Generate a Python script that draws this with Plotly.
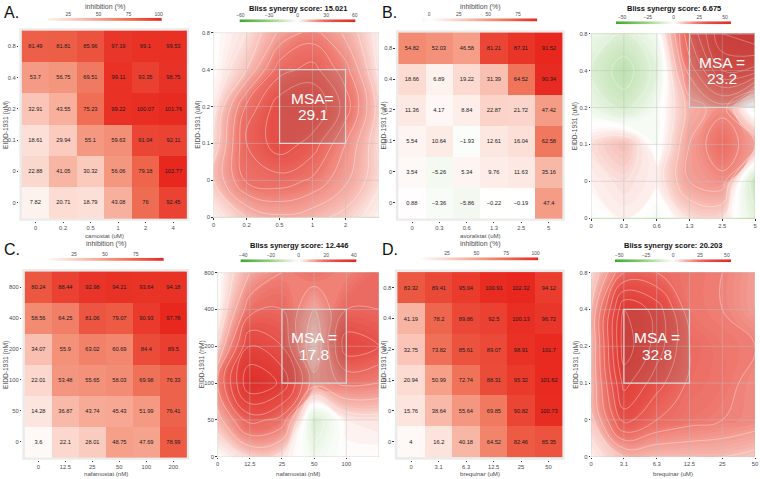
import plotly.graph_objects as go

W, H = 760, 479
FONT = "Liberation Sans, Arial, Helvetica, sans-serif"
TXT = "#4d4d4d"
# inhibition heatmap scale (green - white - red)
HEAT_SCALE = [[0.0, "#3aa62b"], [0.25, "#9fd28f"], [0.5, "#ffffff"],
              [0.625, "#fbd3c8"], [0.75, "#f6a08a"], [0.875, "#ee6a50"], [1.0, "#e8281f"]]
# synergy surface scale (green - white - red)
SYN_SCALE = [[0.0, "#3caa2c"], [0.25, "#96cf80"], [0.4, "#d8edcf"], [0.5, "#ffffff"],
             [0.6, "#f6b5ac"], [0.7, "#ee776d"], [0.8, "#e64f48"], [1.0, "#dc2a26"]]

# ---------------- data ----------------
# EIDD-1931 dose labels (bottom -> top)
eidd_uM_labels = ["0", "0", "0.1", "0.2", "0.4", "0.8"]
eidd_nM_labels = ["0", "50", "100", "200", "400", "800"]
# partner drug dose labels (left -> right)
camostat_labels = ["0", "0.2", "0.5", "1", "2", "4"]
avoralstat_labels = ["0", "0.3", "0.6", "1.3", "2.5", "5"]
nafamostat_labels = ["0", "12.5", "25", "50", "100", "200"]
brequinar_labels = ["0", "3.1", "6.3", "12.5", "25", "50"]

# inhibition (%) - rows from lowest EIDD dose (bottom) to highest (top)
inhib_camostat = [
    [7.82, 20.71, 18.79, 43.08, 76, 92.45],
    [22.88, 41.05, 30.32, 56.06, 79.18, 102.77],
    [18.61, 29.94, 55.1, 59.63, 91.04, 92.11],
    [32.91, 43.55, 75.23, 99.22, 100.07, 101.76],
    [53.7, 56.75, 69.51, 99.11, 93.35, 98.75],
    [81.49, 81.81, 85.96, 97.19, 99.1, 99.53],
]
inhib_avoralstat = [
    [0.88, -3.36, -5.86, -0.22, -0.19, 47.4],
    [3.54, -5.26, 5.34, 9.76, 11.63, 35.16],
    [5.54, 10.64, -1.93, 12.61, 16.04, 62.58],
    [11.36, 4.17, 8.84, 22.87, 21.72, 47.42],
    [18.66, 6.89, 19.22, 31.39, 64.52, 90.34],
    [54.82, 52.03, 46.58, 81.21, 87.31, 91.52],
]
inhib_nafamostat = [
    [3.6, 22.1, 28.01, 48.75, 47.69, 78.99],
    [14.28, 36.87, 43.74, 45.43, 51.99, 76.41],
    [22.01, 53.48, 55.65, 58.03, 69.98, 76.33],
    [34.07, 55.9, 63.02, 60.69, 84.4, 89.5],
    [58.56, 64.25, 81.06, 79.07, 90.93, 97.78],
    [80.24, 88.44, 92.98, 94.21, 93.64, 94.18],
]
inhib_brequinar = [
    [4, 16.2, 40.18, 64.52, 82.46, 85.35],
    [15.76, 38.64, 55.64, 69.85, 90.82, 100.73],
    [20.94, 50.99, 72.74, 88.31, 95.32, 101.62],
    [32.75, 73.82, 85.61, 89.07, 98.91, 101.7],
    [41.19, 78.2, 89.86, 92.5, 100.13, 96.72],
    [83.32, 89.41, 95.04, 100.91, 102.32, 94.12],
]

# Bliss synergy (estimated from the surface) - rows bottom -> top
syn_camostat = [
    [2, 10, 14, 12, 8, 2],
    [10, 26, 28, 24, 16, 6],
    [6, 30, 38, 33, 20, 6],
    [3, 26, 38, 40, 28, 8],
    [0, 10, 28, 32, 22, 4],
    [0, 5, 16, 22, 14, 3],
]
syn_avoralstat = [
    [-2, 2, -3, 5, 5, -8],
    [2, 5, 2, 15, 18, -15],
    [5, 10, -2, 15, 25, 15],
    [-5, -12, -3, 12, 18, -5],
    [-10, -18, -8, 22, 40, 38],
    [-5, -10, -3, 30, 50, 55],
]
syn_nafamostat = [
    [0, 5, 3, -3, 0, 0],
    [8, 22, 18, -8, 2, 3],
    [15, 40, 34, 12, 16, 15],
    [5, 30, 25, 5, 28, 25],
    [0, 18, 20, 10, 20, 20],
    [0, 10, 15, 18, 15, 20],
]
syn_brequinar = [
    [2, 10, 10, 10, 10, 8],
    [8, 32, 25, 22, 20, 18],
    [10, 42, 32, 24, 22, 18],
    [10, 48, 38, 25, 22, 20],
    [10, 45, 38, 22, 20, 15],
    [5, 25, 25, 22, 20, 15],
]
bliss_scores = ["15.021", "6.675", "12.446", "20.203"]
msa_scores = ["29.1", "23.2", "17.8", "32.8"]
msa_words = ["MSA=", "MSA =", "MSA =", "MSA ="]
syn_limits = [61, 56, 42, 54]
syn_ticks = [[-60, -30, 0, 30, 60], [-50, -25, 0, 25, 50], [-40, -20, 0, 20, 40], [-50, -25, 0, 25, 50]]
inhib_ticks = [[25, 50, 75, 100], [0, 25, 50, 75], [25, 50, 75], [25, 50, 75, 100]]
# MSA windows as (x index from, x index to, y index from, y index to)
msa_windows = [(2, 4, 2, 4), (3, 5, 3, 5), (2, 4, 2, 4), (1, 3, 2, 4)]
# number of x ticks visible on the synergy surfaces (last one is cut in A and C)
syn_xtick_count = [5, 6, 5, 6]

# ---------------- figure ----------------
fig = go.Figure()
lay = {}
annotations = []
shapes = []
n_ax = [0]

tick_font = dict(family=FONT, size=5.8, color=TXT)
base_ax = dict(showgrid=False, zeroline=False, showline=False, ticks="outside",
               ticklen=1.5, tickwidth=0.6, tickcolor="#333333", tickfont=tick_font,
               fixedrange=True)


def axes(xpx, ypx, xkw, ykw):
    n_ax[0] += 1
    n = n_ax[0]
    s = "" if n == 1 else str(n)
    lay["xaxis" + s] = dict(domain=[xpx[0] / W, xpx[1] / W], anchor="y" + s, **xkw)
    lay["yaxis" + s] = dict(domain=[1 - ypx[1] / H, 1 - ypx[0] / H], anchor="x" + s, **ykw)
    return "x" + s, "y" + s


def ann(xpx, ypx, text, size, color=TXT, angle=0, xanchor="center", yanchor="middle"):
    annotations.append(dict(x=xpx / W, y=1 - ypx / H, xref="paper", yref="paper",
                            text=text, showarrow=False, textangle=angle,
                            xanchor=xanchor, yanchor=yanchor, borderpad=0,
                            font=dict(family=FONT, size=size, color=color)))


def heat_panel(cx, cy, z, xl, yl, pad=2.5):
    ux = 6 / (cx[1] - cx[0])
    uy = 6 / (cy[1] - cy[0])
    xr, yr = axes((cx[0] - pad, cx[1] + pad), (cy[0] - pad, cy[1] + pad),
                  dict(base_ax, range=[-0.5 - pad * ux, 5.5 + pad * ux],
                       tickvals=list(range(6)), ticktext=xl),
                  dict(base_ax, range=[-0.5 - pad * uy, 5.5 + pad * uy],
                       tickvals=list(range(6)), ticktext=yl))
    zmax = max(max(r) for r in z)
    fig.add_trace(go.Heatmap(
        z=z, x=list(range(6)), y=list(range(6)), xaxis=xr, yaxis=yr,
        colorscale=HEAT_SCALE, zmin=-zmax, zmax=zmax, showscale=False,
        text=[[f"{v:g}".replace("-", "\u2212") for v in row] for row in z],
        texttemplate="%{text}",
        textfont=dict(family=FONT, size=5.7, color="#1a1a1a"), hoverinfo="skip"))
    shapes.append(dict(type="rect", xref=xr + " domain", yref=yr + " domain",
                       x0=0, x1=1, y0=0, y1=1, fillcolor="#ebebeb",
                       line=dict(width=0), layer="below"))


def strip(xpx, ypx, lo, hi, zmin, zmax, ticks, scale):
    xr, yr = axes(xpx, ypx,
                  dict(range=[lo, hi], side="top", tickvals=ticks, ticks="",
                       showgrid=False, zeroline=False, showline=False,
                       tickfont=dict(family=FONT, size=5, color=TXT), fixedrange=True),
                  dict(range=[-0.5, 0.5], visible=False, fixedrange=True))
    fig.add_trace(go.Heatmap(z=[[lo, hi]], x=[lo, hi], y=[0], zsmooth="best",
                             colorscale=scale, zmin=zmin, zmax=zmax, showscale=False,
                             xaxis=xr, yaxis=yr, hoverinfo="skip"))


def syn_panel(px_x, px_y, s, lim, xl, yl, win, word, msa, nxt):
    xr, yr = axes(px_x, px_y,
                  dict(base_ax, range=[0, 5], tickvals=list(range(nxt)), ticktext=xl[:nxt]),
                  dict(base_ax, range=[0, 5], tickvals=list(range(6)), ticktext=yl))
    fig.add_trace(go.Contour(
        z=s, x=list(range(6)), y=list(range(6)), xaxis=xr, yaxis=yr,
        colorscale=SYN_SCALE, zmin=-lim, zmax=lim, autocontour=False,
        contours=dict(start=-lim, end=lim, size=1.0, coloring="fill"),
        line=dict(width=0, smoothing=1.3), showscale=False, hoverinfo="skip"))
    fig.add_trace(go.Contour(
        z=s, x=list(range(6)), y=list(range(6)), xaxis=xr, yaxis=yr,
        autocontour=False, contours=dict(start=-60, end=60, size=5, coloring="none"),
        line=dict(color="rgba(255,255,255,0.6)", width=0.6, smoothing=1.3),
        showscale=False, hoverinfo="skip"))
    for i in range(6):
        shapes.append(dict(type="line", xref=xr, yref=yr + " domain", x0=i, x1=i, y0=0, y1=1,
                           line=dict(color="rgba(190,190,190,0.55)", width=0.8), layer="above"))
        shapes.append(dict(type="line", xref=xr + " domain", yref=yr, x0=0, x1=1, y0=i, y1=i,
                           line=dict(color="rgba(190,190,190,0.55)", width=0.8), layer="above"))
    shapes.append(dict(type="rect", xref=xr, yref=yr, x0=win[0], x1=win[1], y0=win[2], y1=win[3],
                       fillcolor="rgba(110,110,110,0.18)",
                       line=dict(color="rgba(215,215,215,1)", width=1.2), layer="above"))
    cxp = px_x[0] + (px_x[1] - px_x[0]) * (win[0] + win[1]) / 2 / 5
    cyp = px_y[1] - (px_y[1] - px_y[0]) * (win[2] + win[3]) / 2 / 5
    ann(cxp, cyp - 8.5, word, 15.5, color="white")
    ann(cxp, cyp + 8.5, msa, 15.5, color="white")


panels = [
    dict(letter="A.", heat=inhib_camostat, syn=syn_camostat, xl=camostat_labels, yl=eidd_uM_labels,
         xt="camostat (uM)", yt="EIDD-1931 (uM)", ox=0, oy=0,
         cells=((19, 185), (28, 218)), synp=((212, 378), (30, 217)),
         istrip=((45, 160), (15, 18.5)), sstrip=((238, 355), (16.5, 19.5)), sxt=False),
    dict(letter="B.", heat=inhib_avoralstat, syn=syn_avoralstat, xl=avoralstat_labels, yl=eidd_uM_labels,
         xt="avoralstat (uM)", yt="EIDD-1931 (uM)", ox=380, oy=0,
         cells=((398, 563), (30, 218)), synp=((592, 757), (31, 218)),
         istrip=((422, 538), (15.5, 19)), sstrip=((617, 733), (18.5, 21.5)), sxt=False),
    dict(letter="C.", heat=inhib_nafamostat, syn=syn_nafamostat, xl=nafamostat_labels, yl=eidd_nM_labels,
         xt="nafamostat (nM)", yt="EIDD-1931 (nM)", ox=0, oy=240,
         cells=((22, 185), (272, 460)), synp=((216, 378), (273, 459.5)),
         istrip=((45, 162), (258, 261.5)), sstrip=((239, 356), (259.5, 262.5)), sxt=True),
    dict(letter="D.", heat=inhib_brequinar, syn=syn_brequinar, xl=brequinar_labels, yl=eidd_uM_labels,
         xt="brequinar (uM)", yt="EIDD-1931 (uM)", ox=380, oy=240,
         cells=((397, 563), (272.5, 460)), synp=((592, 757), (273, 459.5)),
         istrip=((422, 539), (257.5, 261)), sstrip=((616, 733), (259.5, 262.5)), sxt=True),
]

for k, p in enumerate(panels):
    heat_panel(p["cells"][0], p["cells"][1], p["heat"], p["xl"], p["yl"])
    zmax = max(max(r) for r in p["heat"])
    zmin = min(min(r) for r in p["heat"])
    strip(p["istrip"][0], p["istrip"][1], zmin, zmax, -zmax, zmax, inhib_ticks[k], HEAT_SCALE)
    lim = syn_limits[k]
    syn_panel(p["synp"][0], p["synp"][1], p["syn"], lim, p["xl"], p["yl"],
              msa_windows[k], msa_words[k], msa_scores[k], syn_xtick_count[k])
    strip(p["sstrip"][0], p["sstrip"][1], -lim, lim, -lim, lim, syn_ticks[k], SYN_SCALE)

    cx = p["cells"][0]; cy = p["cells"][1]
    sx = p["synp"][0]; sy = p["synp"][1]
    ix = p["istrip"][0]; ss = p["sstrip"][0]
    ann(p["ox"] + 0, p["oy"] + 0, p["letter"], 16, color="#111111", xanchor="left", yanchor="top")
    ann((ix[0] + ix[1]) / 2, p["oy"] + 4.5, "inhibition (%)", 7)
    ann((ss[0] + ss[1]) / 2, p["oy"] + 5.5, "<b>Bliss synergy score: " + bliss_scores[k] + "</b>", 7.5,
        color="#111111")
    title_y = 235.8 if p["oy"] == 0 else 476.3
    ann((cx[0] + cx[1]) / 2, title_y, p["xt"], 6.1)
    ann(p["ox"] + 3.5, (cy[0] + cy[1]) / 2, p["yt"], 6.6, angle=-90)
    ann(sx[0] - 16, (sy[0] + sy[1]) / 2, p["yt"], 6.6, angle=-90)
    if p["sxt"]:
        ann((sx[0] + sx[1]) / 2, title_y, p["xt"], 6.1)

fig.update_layout(
    width=W, height=H, margin=dict(l=0, r=0, t=0, b=0, pad=0),
    paper_bgcolor="white", plot_bgcolor="white", showlegend=False,
    annotations=annotations, shapes=shapes, **lay)

fig.write_html("out.html", config={"displayModeBar": False},
               post_script="document.body.style.margin='0';document.body.style.padding='0';document.body.style.overflow='hidden';")
